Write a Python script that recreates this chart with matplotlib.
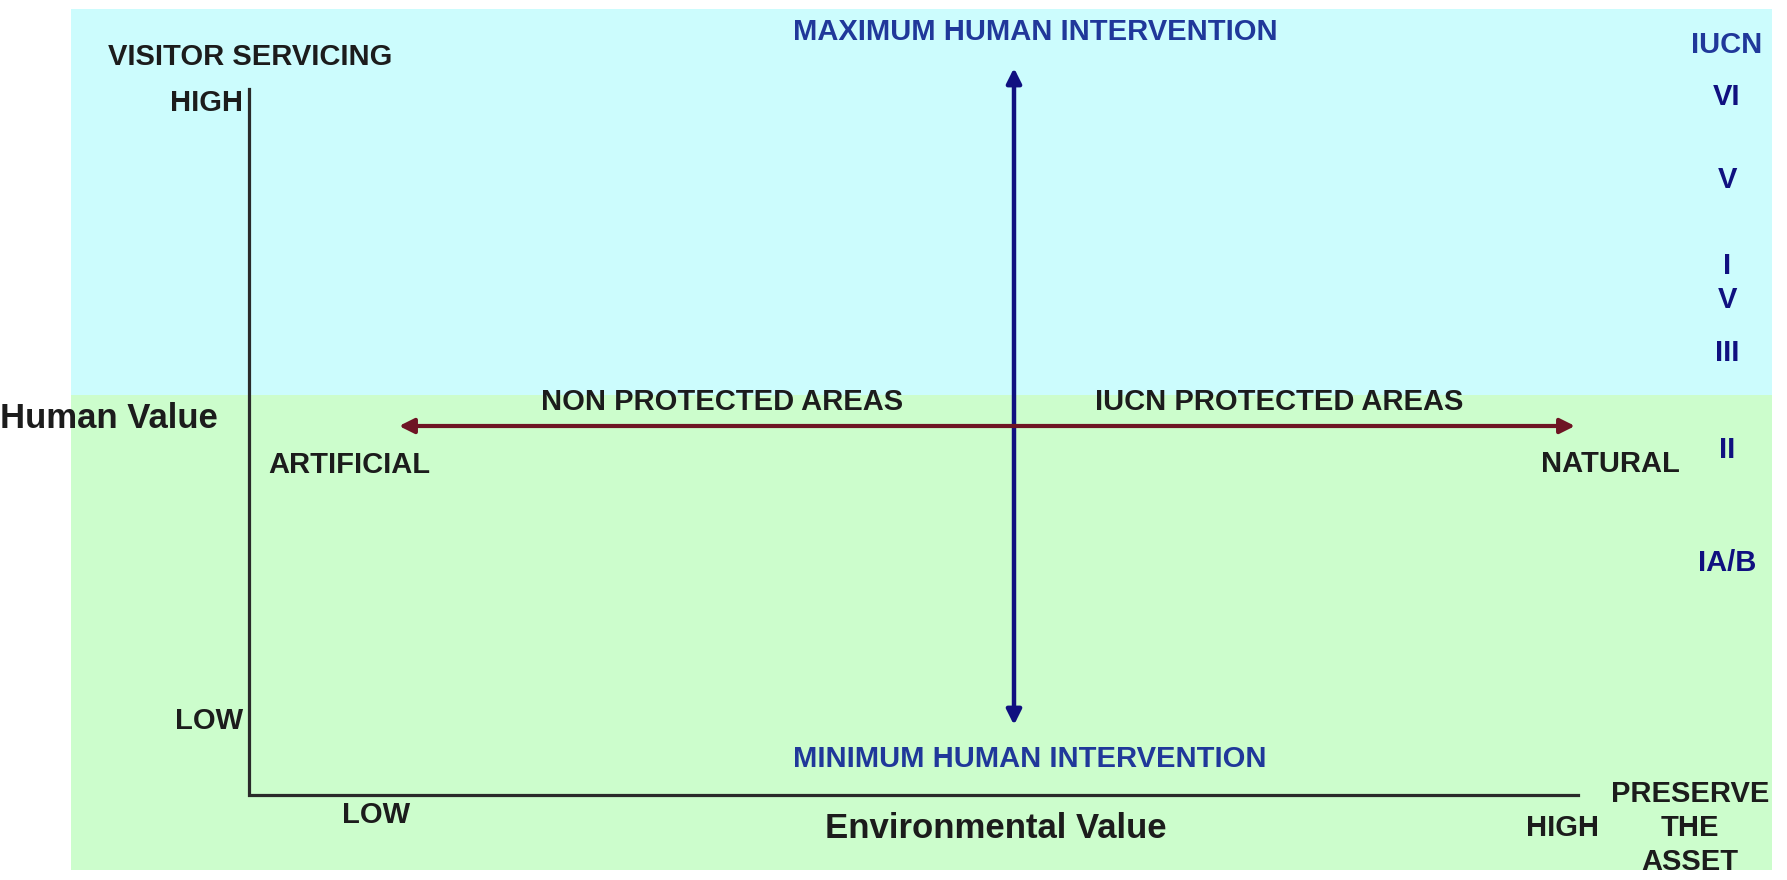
import matplotlib.pyplot as plt
from matplotlib.patches import Rectangle

plt.rcParams['font.family'] = ['Liberation Sans', 'DejaVu Sans']

# Diagram content
y_axis_title = 'Human Value'
x_axis_title = 'Environmental Value'
y_top_label = 'VISITOR SERVICING'
x_end_label = 'PRESERVE\nTHE\nASSET'
level_labels = ['HIGH', 'LOW']
region_labels = ['NON PROTECTED AREAS', 'IUCN PROTECTED AREAS']
extreme_labels = ['ARTIFICIAL', 'NATURAL']
intervention_labels = ['MAXIMUM HUMAN INTERVENTION', 'MINIMUM HUMAN INTERVENTION']

# IUCN categories and their human-value level (0 = LOW, 1 = HIGH)
iucn_categories = ['VI', 'V', 'I', 'V', 'III', 'II', 'IA/B']
iucn_levels = [1.01, 0.875, 0.736, 0.681, 0.595, 0.438, 0.255]

BLACK = '#1c1c1c'
BLUE = '#20389a'
NAVY = '#101080'
DARKRED = '#6e1424'
CYAN = '#ccfcfd'
GREEN = '#ccfdcc'

W, H = 1787, 880
fig = plt.figure(figsize=(W / 100, H / 100), dpi=100)
ax = fig.add_axes([0, 0, 1, 1])
ax.set_xlim(0, W)
ax.set_ylim(H, 0)
ax.axis('off')

# background bands
ax.add_patch(Rectangle((71, 9), 1701, 386, color=CYAN, lw=0))
ax.add_patch(Rectangle((71, 395), 1701, 475, color=GREEN, lw=0))

# frame axes
y_low, y_high = 721, 103
ax.plot([249, 249, 1578], [89, 795, 795], color='#2a2a2a', lw=2.3,
        solid_joinstyle='miter')

def level_y(v):
    return y_low - v * (y_low - y_high)

# arrows
ax.annotate('', xy=(1014, 68), xytext=(1014, 725),
            arrowprops=dict(arrowstyle='<|-|>', color=NAVY, lw=3.2,
                            mutation_scale=22, shrinkA=0, shrinkB=0))
ax.annotate('', xy=(399, 426), xytext=(1575, 426),
            arrowprops=dict(arrowstyle='<|-|>', color=DARKRED, lw=3.0,
                            mutation_scale=22, shrinkA=0, shrinkB=0))

fs = 21
bold = dict(fontweight='bold', color=BLACK, fontsize=fs, va='center')

ax.text(108, 57, y_top_label, ha='left', **bold)
ax.text(243, level_y(1), level_labels[0], ha='right', **bold)
ax.text(243, level_y(0), level_labels[1], ha='right', **bold)
ax.text(0, 419, y_axis_title, ha='left', va='center', fontsize=25,
        fontweight='bold', color=BLACK)

ax.text(268, 465, extreme_labels[0], ha='left', **bold)
ax.text(1541, 464, extreme_labels[1], ha='left', **bold)
ax.text(722, 402, region_labels[0], ha='center', **bold)
ax.text(1279, 402, region_labels[1], ha='center', **bold)

ax.text(1035, 32, intervention_labels[0], ha='center', va='center',
        fontsize=fs, fontweight='bold', color=BLUE)
ax.text(1030, 759, intervention_labels[1], ha='center', va='center',
        fontsize=fs, fontweight='bold', color=BLUE)

ax.text(376, 815, level_labels[1], ha='center', **bold)
ax.text(996, 829, x_axis_title, ha='center', va='center', fontsize=25,
        fontweight='bold', color=BLACK)
ax.text(1563, 828, level_labels[0], ha='center', **bold)
ax.text(1690, 828, x_end_label, ha='center', va='center', fontsize=fs,
        fontweight='bold', color=BLACK, linespacing=1.25)

# IUCN category column
ax.text(1727, 45, 'IUCN', ha='center', va='center', fontsize=fs,
        fontweight='bold', color=BLUE)
for cat, lv in zip(iucn_categories, iucn_levels):
    ax.text(1727, level_y(lv), cat, ha='center', va='center', fontsize=fs,
            fontweight='bold', color=NAVY)

fig.savefig('out.png', dpi=100)
